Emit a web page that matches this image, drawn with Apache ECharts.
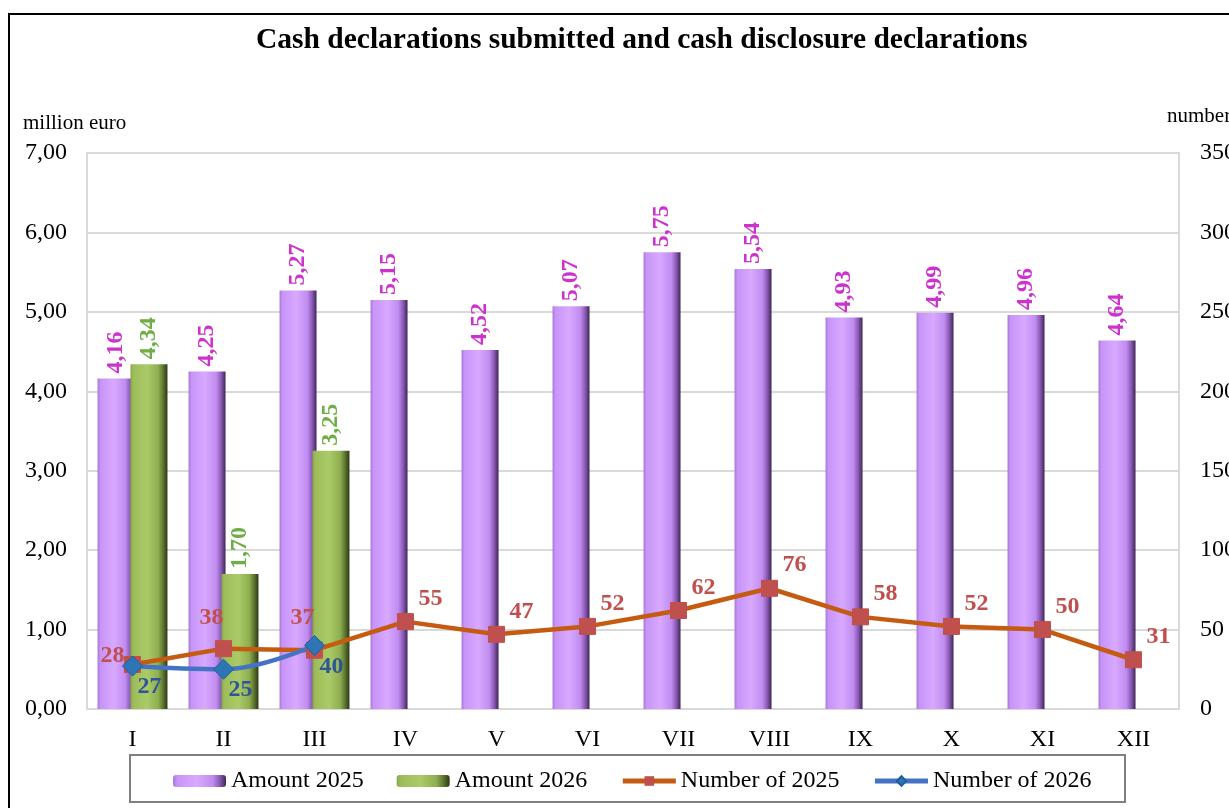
<!DOCTYPE html>
<html>
<head>
<meta charset="utf-8">
<script src="https://cdn.jsdelivr.net/npm/echarts@6/dist/echarts.min.js"></script>
<style>
html,body{margin:0;padding:0;background:#fff;overflow:hidden;}
#chart{width:1229px;height:808px;}
</style>
</head>
<body>
<div id="chart"></div>
<script>
// ---- data ----
const months = ['I','II','III','IV','V','VI','VII','VIII','IX','X','XI','XII'];
const amount2025 = [4.16,4.25,5.27,5.15,4.52,5.07,5.75,5.54,4.93,4.99,4.96,4.64];
const amount2026 = [4.34,1.70,3.25];
const number2025 = [28,38,37,55,47,52,62,76,58,52,50,31];
const number2026 = [27,25,40];
const leftTicks = [0,1,2,3,4,5,6,7];
const rightTicks = [0,50,100,150,200,250,300,350];

// ---- styling helpers ----
const FONT = '"Liberation Serif","Times New Roman",serif';
const fmt = v => v.toFixed(2).replace('.', ',');
const off2025 = {0:[-20,-9],1:[-12,-31],2:[-12,-32]};
const off2025Default = [25,-23];
const off2026Default = [17,21];

function grad(stops){
  return {type:'linear',x:0,y:0,x2:1,y2:0,colorStops:stops.map(s=>({offset:s[0],color:s[1]}))};
}
const purpleFill = grad([[0,'#A878D8'],[0.08,'#C794F8'],[0.45,'#D8A9FF'],[0.75,'#C08CF0'],[0.88,'#8A5BB5'],[1,'#3E2656']]);
const greenFill = grad([[0,'#86A84A'],[0.08,'#9DBD5B'],[0.45,'#AACB68'],[0.75,'#8FAE50'],[0.88,'#5E7630'],[1,'#2C3816']]);

const chart = echarts.init(document.getElementById('chart'), null, {renderer:'canvas'});

const option = {
  backgroundColor:'#ffffff',
  animation:false,
  textStyle:{fontFamily:FONT},
  title:{
    text:'Cash declarations submitted and cash disclosure declarations',
    left:251, top:20,
    textStyle:{fontFamily:FONT,fontSize:29.5,fontWeight:'bold',color:'#000'}
  },
  grid:{left:87,right:50,top:153,bottom:99,show:true,borderColor:'#d9d9d9',borderWidth:2,
        containLabel:false,outerBoundsMode:'none'},
  legend:{
    left:168, top:764,
    itemWidth:53, itemHeight:12, itemGap:33,
    textStyle:{fontFamily:FONT,fontSize:24,color:'#000'},
    data:[
      {name:'Amount 2025'},
      {name:'Amount 2026'},
      {name:'Number of 2025',lineStyle:{width:5}},
      {name:'Number of 2026',lineStyle:{width:5}}
    ]
  },
  graphic:[
    {type:'rect',shape:{x:9,y:14,width:1300,height:900},style:{fill:'none',stroke:'#000',lineWidth:2},z:-1},
    {type:'rect',shape:{x:130,y:755,width:995,height:47},style:{fill:'none',stroke:'#7f7f7f',lineWidth:2},z:-1},
    {type:'text',left:23,top:113,style:{text:'million euro',font:'21px '+FONT,fill:'#000'}},
    {type:'text',left:1167,top:106,style:{text:'number',font:'21px '+FONT,fill:'#000'}}
  ],
  xAxis:{
    type:'category',data:months,
    axisLine:{show:true,lineStyle:{color:'#d9d9d9',width:2}},
    axisTick:{show:false},
    axisLabel:{fontFamily:FONT,fontSize:24,color:'#000',margin:19}
  },
  yAxis:[
    {type:'value',min:leftTicks[0],max:leftTicks[leftTicks.length-1],interval:1,
     axisLine:{show:false},axisTick:{show:false},
     splitLine:{lineStyle:{color:'#d9d9d9',width:2}},
     axisLabel:{fontFamily:FONT,fontSize:24,color:'#000',margin:20,formatter:v=>fmt(v)}},
    {type:'value',min:rightTicks[0],max:rightTicks[rightTicks.length-1],interval:50,
     axisLine:{show:false},axisTick:{show:false},splitLine:{show:false},
     axisLabel:{fontFamily:FONT,fontSize:24,color:'#000',margin:21,align:'left'}}
  ],
  series:[
    {name:'Amount 2025',type:'bar',yAxisIndex:0,data:amount2025,barWidth:37,barGap:'-11%',
     itemStyle:{color:purpleFill},
     label:{show:true,position:'top',rotate:90,align:'left',verticalAlign:'middle',distance:5,
       fontFamily:FONT,fontSize:24,fontWeight:'bold',color:'#CC33CC',formatter:p=>fmt(p.value)}},
    {name:'Amount 2026',type:'bar',yAxisIndex:0,data:amount2026,barWidth:37,barGap:'-11%',
     itemStyle:{color:greenFill},
     label:{show:true,position:'top',rotate:90,align:'left',verticalAlign:'middle',distance:5,
       fontFamily:FONT,fontSize:24,fontWeight:'bold',color:'#6FAD45',formatter:p=>fmt(p.value)}},
    {name:'Number of 2025',type:'line',yAxisIndex:1,
     data:number2025.map((v,i)=>({value:v,label:{offset:off2025[i]||off2025Default}})),
     symbol:'rect',symbolSize:16,
     lineStyle:{color:'#C55A11',width:4.5},
     itemStyle:{color:'#C0504D',borderColor:'#C0504D'},
     label:{show:true,position:'inside',fontFamily:FONT,fontSize:24,fontWeight:'bold',color:'#C0504D'}},
    {name:'Number of 2026',type:'line',yAxisIndex:1,smooth:0.4,
     data:number2026.map(v=>({value:v,label:{offset:off2026Default}})),
     symbol:'diamond',symbolSize:20,
     lineStyle:{color:'#4472C4',width:4.5},
     itemStyle:{color:'#2E75B6',borderColor:'#1F5FA0',borderWidth:1},
     label:{show:true,position:'inside',fontFamily:FONT,fontSize:24,fontWeight:'bold',color:'#2F5597'}}
  ]
};
chart.setOption(option);
</script>
</body>
</html>
